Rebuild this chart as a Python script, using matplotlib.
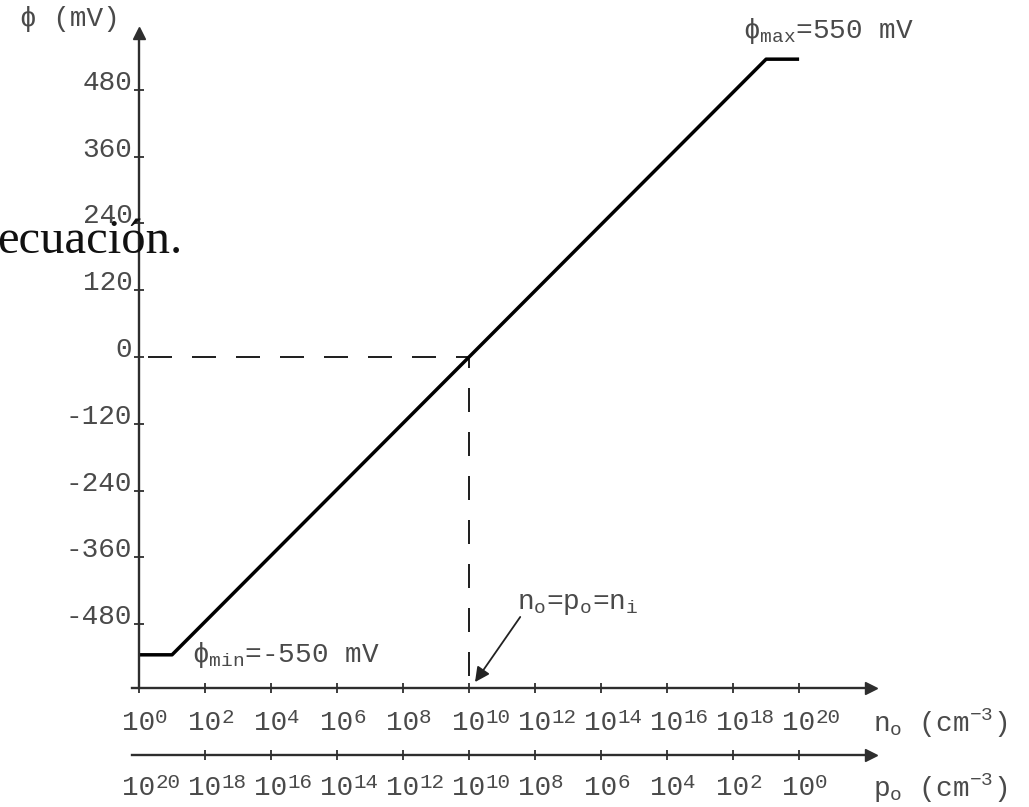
import matplotlib
matplotlib.use("Agg")
import matplotlib.pyplot as plt
import matplotlib.transforms as mtransforms

# data (x in decades of n_o, y in mV)
n_decades = [0, 1, 19, 20]
phi_mv = [-535, -535, 535, 535]
ni_decade = 10          # n_o = p_o = n_i
phi_ni = 0

tick_decades = [0, 2, 4, 6, 8, 10, 12, 14, 16, 18, 20]
n_exponents = ["0", "2", "4", "6", "8", "10", "12", "14", "16", "18", "20"]
p_exponents = ["20", "18", "16", "14", "12", "10", "8", "6", "4", "2", "0"]
y_ticks = [-480, -360, -240, -120, 0, 120, 240, 360, 480]
y_labels = ["-480", "-360", "-240", "-120", "0", "120", "240", "360", "480"]

mono = ["Liberation Mono", "DejaVu Sans Mono"]
plt.rcParams["font.family"] = mono
plt.rcParams["mathtext.fontset"] = "custom"
plt.rcParams["mathtext.rm"] = "Liberation Mono"
plt.rcParams["mathtext.it"] = "Liberation Mono"

txt_col = "#4a4a4a"
axis_col = "#2e2e2e"
fs = 20

fig = plt.figure(figsize=(10.29, 8.07), dpi=100)
ax = fig.add_axes([0.1287, 0.1472, 0.7178, 0.8119])
ax.set_xlim(-0.2, 22.18)
ax.set_ylim(-595, 582)

# spines: y axis through decade 0, x axis at the bottom
for s in ["top", "right"]:
    ax.spines[s].set_visible(False)
ax.spines["left"].set_position(("data", 0))
ax.spines["left"].set_color(axis_col)
ax.spines["bottom"].set_color(axis_col)
ax.spines["left"].set_linewidth(1.7)
ax.spines["bottom"].set_linewidth(1.7)
ax.plot(1, 0, ">", color=axis_col, ms=9, transform=ax.transAxes, clip_on=False)
ax.plot(0, 1, "^", color=axis_col, ms=9, transform=ax.get_xaxis_transform(), clip_on=False)

ax.set_yticks(y_ticks)
ax.set_yticklabels(y_labels, va="baseline", color=txt_col, fontsize=fs)
ax.set_xticks(tick_decades)
ax.set_xticklabels([])
ax.tick_params(axis="both", direction="inout", length=6.5, width=1.3, color=axis_col, pad=1.5)

# second axis for p_o
sec = ax.secondary_xaxis(-0.102)
sec.spines["bottom"].set_color(axis_col)
sec.spines["bottom"].set_linewidth(1.7)
sec.set_xticks(tick_decades)
sec.set_xticklabels([])
sec.tick_params(axis="x", direction="inout", length=6.5, width=1.3, color=axis_col)
sec.xaxis.get_major_ticks()[0].tick1line.set_visible(False)
ax.plot(1, -0.102, ">", color=axis_col, ms=9, transform=ax.transAxes, clip_on=False)

# power-of-ten labels: "10" centred on the tick, exponent raised after it
blend = mtransforms.blended_transform_factory(ax.transData, ax.transAxes)
sup_tr = mtransforms.offset_copy(blend, fig=fig, x=16.0, y=7.0, units="dots")
for row_y, exps in [(-0.0638, n_exponents), (-0.163, p_exponents)]:
    for d, e in zip(tick_decades, exps):
        ax.text(d, row_y, "10", transform=blend, ha="center", va="baseline",
                color=txt_col, fontsize=fs, clip_on=False)
        ax.text(d, row_y, e, transform=sup_tr, ha="left", va="baseline",
                color=txt_col, fontsize=15, clip_on=False)

ax.text(1.0027, -0.0668, r"n$_{\mathrm{o}}$ (cm$^{\mathrm{-3}}$)", transform=ax.transAxes,
        ha="left", va="baseline", color=txt_col, fontsize=fs, clip_on=False)
ax.text(1.0027, -0.166, r"p$_{\mathrm{o}}$ (cm$^{\mathrm{-3}}$)", transform=ax.transAxes,
        ha="left", va="baseline", color=txt_col, fontsize=fs, clip_on=False)
ax.text(-0.152, 1.0107, "\u03d5 (mV)", transform=ax.transAxes, ha="left", va="baseline",
        color=txt_col, fontsize=fs, clip_on=False)

# dashed guides to the intrinsic point
ax.plot([0, ni_decade], [phi_ni, phi_ni], color="#222222", lw=1.44,
        linestyle=(17.5, (12, 10)))
ax.plot([ni_decade, ni_decade], [phi_ni, ax.get_ylim()[0]], color="#222222", lw=1.44,
        linestyle=(6.5, (12, 10)))

# the potential curve
ax.plot(n_decades, phi_mv, color="black", lw=2.5, solid_capstyle="butt")

ax.text(18.3, 573, "\u03d5$_{\\mathrm{max}}$=550 mV", ha="left", va="baseline",
        color=txt_col, fontsize=fs)
ax.text(1.6, -548, "\u03d5$_{\\mathrm{min}}$=-550 mV", ha="left", va="baseline",
        color=txt_col, fontsize=fs)

ax.annotate("", xy=(10.18, -584), xytext=(11.55, -467),
            arrowprops=dict(arrowstyle="-|>", color="#222222", lw=1.3,
                            mutation_scale=22, shrinkA=0, shrinkB=0))
ax.text(11.45, -452, r"n$_{\mathrm{o}}$=p$_{\mathrm{o}}$=n$_{\mathrm{i}}$", ha="left",
        va="baseline", color=txt_col, fontsize=fs)

# leftover text from the source document
fig.text(182 / 1029, (807 - 253) / 807, "ecuación.", ha="right", va="baseline",
         family="Liberation Serif", fontsize=35, color="#111111")

fig.savefig("out.png", dpi=100)
